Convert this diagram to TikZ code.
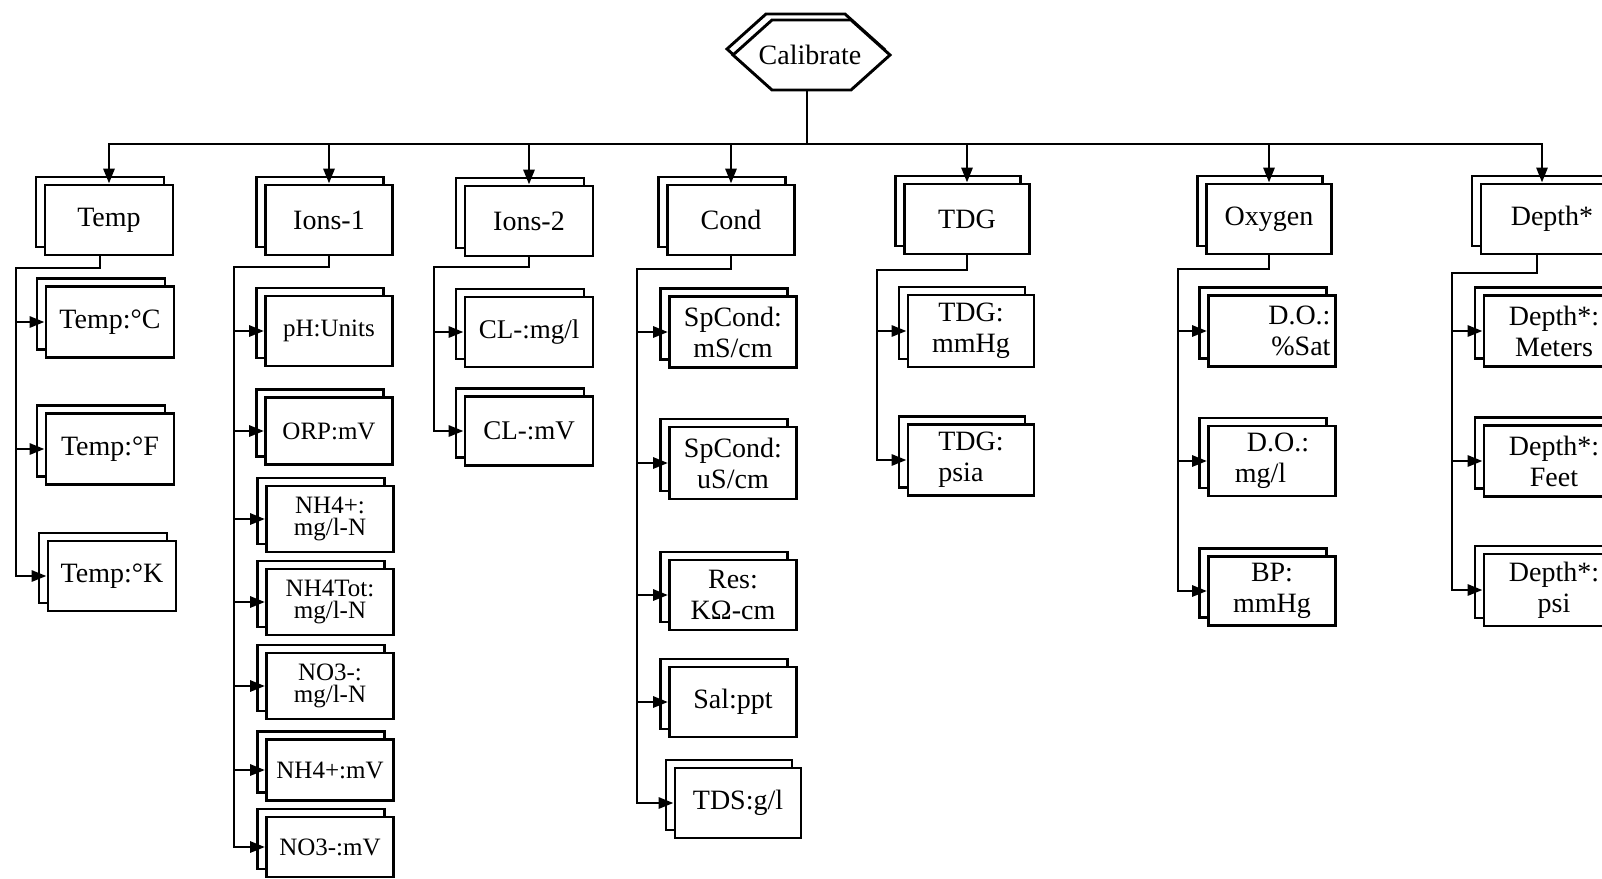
\documentclass[tikz,border=0pt]{standalone}
\usepackage{fontspec}
\setmainfont{Liberation Serif}
\usetikzlibrary{positioning, arrows.meta, shadows}

\tikzset{
  card/.style={draw, fill=white, line width=2.9pt, minimum width=128pt, minimum height=70pt,
    inner sep=4pt, align=center, font=\fontsize{28}{31}\selectfont,
    copy shadow={shadow xshift=-9pt, shadow yshift=8pt, draw, fill=white, line width=2.9pt}},
  subcard/.style={card, font=\fontsize{25}{22}\selectfont},
  link/.style={line width=2.9pt},
  feed/.style={link, -{Triangle[length=15pt, width=11pt]}},
}

\begin{document}
\begin{tikzpicture}[x=1pt, y=-1pt]
\useasboundingbox (0,0) rectangle (1602,878);
\clip (0,0) rectangle (1602,878);

\foreach \dx/\dy in {-6/-6, 0/0}
  \draw[link, fill=white, shift={(\dx,\dy)}] (733,55) -- (772,20) -- (851,20) -- (890,55) -- (851,90) -- (772,90) -- cycle;
\node[minimum width=157pt, minimum height=70pt, inner sep=0pt, font=\fontsize{28}{31}\selectfont] (cal) at (810,55) {Calibrate};

\coordinate (bus) at (0,144);

\node[card] (temp) at (109,220) {Temp};
\node[card, minimum width=127pt] (ions1) at (329,220) {Ions-1};
\node[card] (ions2) at (529,221) {Ions-2};
\node[card, minimum width=127pt] (cond) at (731,220) {Cond};
\node[card, minimum width=125pt] (tdg) at (967,219) {TDG};
\node[card, minimum width=125pt] (oxygen) at (1269,219) {Oxygen};
\node[card, minimum width=142pt] (depth) at (1552,219) {Depth*};

\draw[link] ([xshift=-3pt]cal.south) -- ([xshift=-3pt]cal.south |- bus);
\foreach \n in {temp, ions1, ions2, cond, tdg, oxygen}
  \draw[feed] (cal.south |- bus) -| (\n.north);
\draw[feed] (cal.south |- bus) -| ([xshift=-10pt]depth.north);

\node[card, minimum height=71pt] (tempC) at (110,322) {Temp:°C};
\node[card, minimum height=71pt] (tempF) at (110,449) {Temp:°F};
\node[card] (tempK) at (112,576) {Temp:°K};

\coordinate (tempbar) at (16,268);
\draw[feed] ([xshift=-9pt]temp.south) |- (tempbar) |- (tempK);
\foreach \n in {tempC, tempF}
  \draw[feed] (tempbar |- \n) -- (\n);

\node[subcard, minimum width=127pt] (ph) at (329,331) {pH:Units};
\node[subcard, minimum width=127pt, minimum height=67pt] (orp) at (329,431) {ORP:mV};
\node[subcard, minimum width=127pt, minimum height=66pt] (nhplus) at (330,519) {NH4+:\\mg/l-N};
\node[subcard, minimum width=127pt, minimum height=66pt] (nhtot) at (330,602) {NH4Tot:\\mg/l-N};
\node[subcard, minimum width=127pt, minimum height=66pt] (nothree) at (330,686) {NO3-:\\mg/l-N};
\node[subcard, minimum width=127pt, minimum height=61pt] (nhmv) at (330,770) {NH4+:mV};
\node[subcard, minimum width=127pt, minimum height=60pt] (nomv) at (330,847) {NO3-:mV};

\coordinate (ionsbar) at (234,267);
\draw[feed] (ions1.south) |- (ionsbar) |- (nomv);
\foreach \n in {ph, orp, nhplus, nhtot, nothree, nhmv}
  \draw[feed] (ionsbar |- \n) -- (\n);

\node[card, font=\fontsize{27}{30}\selectfont] (clmg) at (529,332) {CL-:mg/l};
\node[card, font=\fontsize{27}{30}\selectfont, minimum height=69pt] (clmv) at (529,431) {CL-:mV};

\coordinate (chlbar) at (434,267);
\draw[feed] (ions2.south) |- (chlbar) |- (clmv);
\draw[feed] (chlbar |- clmg) -- (clmg);

\node[card, minimum width=127pt, minimum height=71pt] (spms) at (733,332) {SpCond:\\mS/cm};
\node[card, minimum width=127pt, minimum height=72pt] (spus) at (733,463) {SpCond:\\uS/cm};
\node[card, minimum width=127pt] (res) at (733,595) {Res:\\KΩ-cm};
\node[card, minimum width=127pt] (sal) at (733,702) {Sal:ppt};
\node[card, minimum width=126pt] (tds) at (738,803) {TDS:g/l};

\coordinate (condbar) at (637,269);
\draw[feed] (cond.south) |- (condbar) |- (tds);
\foreach \n in {spms, spus, res, sal}
  \draw[feed] (condbar |- \n) -- (\n);

\node[card, minimum width=126pt, minimum height=72pt] (tdgmm) at (971,331) {TDG:\\mmHg};
\node[card, minimum width=126pt, minimum height=71pt, align=left] (tdgpsi) at (971,460) {TDG:\\psia};

\coordinate (tdgbar) at (877,270);
\draw[feed] (tdg.south) |- (tdgbar) |- (tdgpsi);
\draw[feed] (tdgbar |- tdgmm) -- (tdgmm);

\node[card, minimum width=127pt, minimum height=71pt, text width=117pt, inner xsep=5pt, align=right] (dosat) at (1272,331) {D.O.:\hspace*{18pt}\\\%Sat};
\node[card, minimum width=127pt, align=left] (domg) at (1272,461) {\hspace*{12pt}D.O.:\\mg/l};
\node[card, minimum width=127pt, minimum height=69pt] (bp) at (1272,591) {BP:\\mmHg};

\coordinate (oxbar) at (1178,269);
\draw[feed] (oxygen.south) |- (oxbar) |- (bp);
\foreach \n in {dosat, domg}
  \draw[feed] (oxbar |- \n) -- (\n);

\node[card, minimum width=140pt, minimum height=71pt] (dmeter) at (1554,331) {Depth*:\\Meters};
\node[card, minimum width=140pt, minimum height=71pt] (dfeet) at (1554,461) {Depth*:\\Feet};
\node[card, minimum width=140pt, minimum height=72pt] (dpsi) at (1554,590) {Depth*:\\psi};

\coordinate (depthbar) at (1452,273);
\draw[feed] ([xshift=-15pt]depth.south) |- (depthbar) |- (dpsi);
\foreach \n in {dmeter, dfeet}
  \draw[feed] (depthbar |- \n) -- (\n);

\end{tikzpicture}
\end{document}
